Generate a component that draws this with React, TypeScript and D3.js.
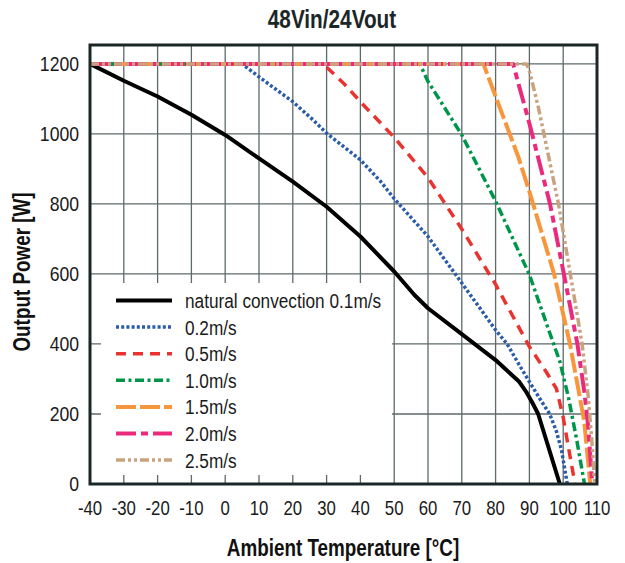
import React from "react";
import * as d3 from "d3";

const xTicks = [-40, -30, -20, -10, 0, 10, 20, 30, 40, 50, 60, 70, 80, 90, 100, 110];
const yTicks = [0, 200, 400, 600, 800, 1000, 1200];

const legendLabels = [
  "natural convection 0.1m/s",
  "0.2m/s",
  "0.5m/s",
  "1.0m/s",
  "1.5m/s",
  "2.0m/s",
  "2.5m/s",
];

const natural: [number, number][] = [
  [-40, 1200], [-30, 1152], [-20, 1107], [-10, 1055], [0, 997], [10, 930], [20, 864],
  [30, 792], [40, 707], [50, 607], [56, 540], [60, 502], [70, 428], [80, 354], [87, 292],
  [89, 264], [91, 230], [92.6, 200], [99, 0],
];
const air02: [number, number][] = [
  [-40, 1200], [5, 1200], [10, 1163], [20, 1092], [26, 1040], [30, 1002], [40, 926],
  [46, 864], [50, 815], [60, 707], [70, 574], [80, 440], [83.4, 400], [87, 340],
  [90, 292], [93, 245], [96, 200], [98, 150], [99.5, 97], [101.2, 0],
];
const air05: [number, number][] = [
  [-40, 1200], [29, 1200], [35, 1145], [40, 1092], [50, 990], [60, 875], [70, 728],
  [80, 570], [90, 392], [95, 320], [98, 272], [100, 190], [102, 80], [103.5, 0],
];
const air10: [number, number][] = [
  [-40, 1200], [57.6, 1200], [60, 1150], [70, 997], [80, 808], [90, 598], [96, 432],
  [99, 350], [101.5, 250], [104, 126], [106.3, 0],
];
const air15: [number, number][] = [
  [-40, 1200], [76.4, 1200], [80, 1107], [86.7, 935], [90, 835], [97.3, 600],
  [102, 400], [104.3, 280], [106.2, 180], [108, 0],
];
const air20: [number, number][] = [
  [-40, 1200], [85.2, 1200], [87, 1135], [90, 1030], [96.1, 800], [100.2, 600],
  [104.2, 400], [106.3, 260], [107.4, 165], [108.6, 0],
];
const air25: [number, number][] = [
  [-40, 1200], [89.2, 1200], [90.2, 1173], [92.6, 1078], [94.3, 1000], [98.6, 800],
  [102.1, 600], [105.6, 400], [107.4, 250], [108.5, 120], [109.3, 0],
];

const seriesData = [natural, air02, air05, air10, air15, air20, air25];
const seriesColors = ["#000000", "#2b5ca8", "#e8332f", "#00964a", "#f7963d", "#ec2a7c", "#c9a27e"];
const seriesDash = ["", "3,2.2", "10,7", "9,3.5,3,3.5", "20,4", "20,5,7,5", "9,3,3,3,3,3"];
const seriesWidth = [4, 3.5, 3.5, 3.5, 4, 4, 3.5];

const FONT = "'Liberation Sans', Arial, sans-serif";

const W = 625;
const H = 563;
const L = 90;
const R = 597;
const T = 45;
const B = 484;
const YMAX = 1254;

type CTProps = {
  x: number;
  y: number;
  size: number;
  sx: number;
  anchor?: "start" | "middle" | "end";
  bold?: boolean;
  rotate?: number;
  fill?: string;
  children: React.ReactNode;
};

function CText({ x, y, size, sx, anchor = "start", bold = false, rotate = 0, fill = "#1a1a1a", children }: CTProps) {
  return (
    <text
      transform={`translate(${x},${y}) rotate(${rotate}) scale(${sx},1)`}
      textAnchor={anchor}
      fontFamily={FONT}
      fontWeight={bold ? "bold" : "normal"}
      fontSize={size}
      fill={fill}
    >
      {children}
    </text>
  );
}

export default function App() {
  const x = d3.scaleLinear().domain([-40, 110]).range([L, R]);
  const y = d3.scaleLinear().domain([0, YMAX]).range([B, T]);
  const line = d3
    .line<[number, number]>()
    .x((d) => x(d[0]))
    .y((d) => y(d[1]));

  const legX1 = 116;
  const legX2 = 172;
  const legTop = 300.5;
  const legStep = 26.6;

  return (
    <svg width={W} height={H} style={{ position: "absolute", left: 0, top: 0, background: "#fff" }}>
      <rect x={0} y={0} width={W} height={H} fill="#fff" />
      <CText x={332} y={28} size={25} sx={0.83} anchor="middle" bold fill="#1c2626">
        48Vin/24Vout
      </CText>
      {/* grid */}
      {xTicks.slice(1, -1).map((t) => (
        <line key={"gx" + t} x1={x(t)} x2={x(t)} y1={T} y2={B} stroke="#5e6a6a" strokeWidth={1.3} />
      ))}
      {yTicks.slice(1).map((t) => (
        <line key={"gy" + t} x1={L} x2={R} y1={y(t)} y2={y(t)} stroke="#5e6a6a" strokeWidth={1.3} />
      ))}
      {/* legend background */}
      <rect x={101} y={283} width={291} height={192} fill="#fff" />
      {/* series */}
      {seriesData.map((s, i) => (
        <path
          key={"s" + i}
          d={line(s) || ""}
          fill="none"
          stroke={seriesColors[i]}
          strokeWidth={seriesWidth[i]}
          strokeDasharray={seriesDash[i] || undefined}
          strokeLinejoin="round"
        />
      ))}
      {/* frame */}
      <rect x={L} y={T} width={R - L} height={B - T} fill="none" stroke="#1b2727" strokeWidth={3} />
      {/* tick labels */}
      {xTicks.map((t) => (
        <CText key={"xl" + t} x={x(t)} y={514.5} size={20} sx={0.84} anchor="middle">
          {t}
        </CText>
      ))}
      {yTicks.map((t) => (
        <CText key={"yl" + t} x={79} y={y(t) + 7} size={20} sx={0.88} anchor="end">
          {t}
        </CText>
      ))}
      {/* axis titles */}
      <CText x={343} y={556} size={23} sx={0.82} anchor="middle" bold fill="#111">
        Ambient Temperature [°C]
      </CText>
      <CText x={30} y={272} size={23} sx={0.82} anchor="middle" bold rotate={-90} fill="#111">
        Output Power [W]
      </CText>
      {/* legend */}
      {legendLabels.map((lab, i) => (
        <g key={"lg" + i}>
          <line
            x1={legX1}
            x2={legX2}
            y1={legTop + i * legStep}
            y2={legTop + i * legStep}
            stroke={seriesColors[i]}
            strokeWidth={seriesWidth[i]}
            strokeDasharray={seriesDash[i] || undefined}
          />
          <CText x={185} y={legTop + i * legStep + 7.5} size={20.5} sx={0.84}>
            {lab}
          </CText>
        </g>
      ))}
    </svg>
  );
}
